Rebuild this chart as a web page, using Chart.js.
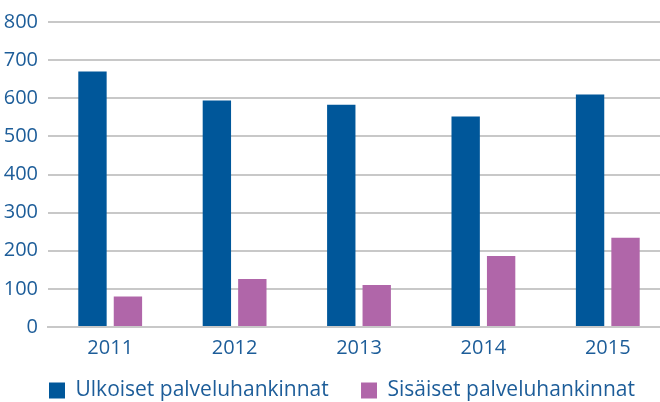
<!DOCTYPE html>
<html>
<head>
<meta charset="utf-8">
<script src="https://cdn.jsdelivr.net/npm/chart.js@4"></script>
<style>
  html, body { margin: 0; padding: 0; background: #fff; overflow: hidden; }
  #wrap { width: 670px; height: 402px; }
</style>
</head>
<body>
<div id="wrap"><canvas id="chart"></canvas></div>
<script>
const years = ['2011', '2012', '2013', '2014', '2015'];
const ulkoiset = [670, 594, 583, 552, 610];
const sisaiset = [80, 126, 110, 186, 234];
const yTicks = [0, 100, 200, 300, 400, 500, 600, 700, 800];

const blue = '#00579a';
const pink = '#b066a9';
const textBlue = '#1d5d99';

// a bit of extra room after the first legend entry
const legendGap = '\u00a0'.repeat(5);

// nudge the legend a little to the right, as in the original
const legendShift = {
    id: 'legendShift',
    afterLayout(chart) {
        chart.legend.left += 7;
        chart.legend.right += 7;
    }
};

const ctx = document.getElementById('chart').getContext('2d');
new Chart(ctx, {
    type: 'bar',
    data: {
        labels: years,
        datasets: [
            {
                label: 'Ulkoiset palveluhankinnat' + legendGap,
                data: ulkoiset,
                backgroundColor: blue,
                categoryPercentage: 0.57,
                barPercentage: 0.8
            },
            {
                label: 'Sisäiset palveluhankinnat',
                data: sisaiset,
                backgroundColor: pink,
                categoryPercentage: 0.57,
                barPercentage: 0.8
            }
        ]
    },
    plugins: [legendShift],
    options: {
        responsive: true,
        maintainAspectRatio: false,
        animation: false,
        layout: { padding: { top: 9, right: 0, left: 0, bottom: 0 } },
        plugins: {
            tooltip: { enabled: false },
            legend: {
                position: 'bottom',
                maxHeight: 27,
                labels: {
                    color: textBlue,
                    font: { family: 'Open Sans', size: 21 },
                    boxWidth: 16,
                    boxHeight: 16,
                    padding: 5
                }
            }
        },
        scales: {
            x: {
                afterFit: scale => { scale.height = 48; },
                grid: { display: false },
                border: { display: true, color: '#c8c8c8', width: 2 },
                ticks: {
                    color: textBlue,
                    font: { family: 'Open Sans', size: 20 },
                    padding: 1
                }
            },
            y: {
                min: 0,
                max: 800,
                afterBuildTicks: scale => { scale.ticks = yTicks.map(v => ({ value: v })); },
                afterFit: scale => { scale.width = 48; },
                grid: { color: '#c8c8c8', lineWidth: 2, drawTicks: false },
                border: { display: false },
                ticks: {
                    color: textBlue,
                    font: { family: 'Open Sans', size: 20 },
                    padding: 10
                }
            }
        }
    }
});
</script>
</body>
</html>
